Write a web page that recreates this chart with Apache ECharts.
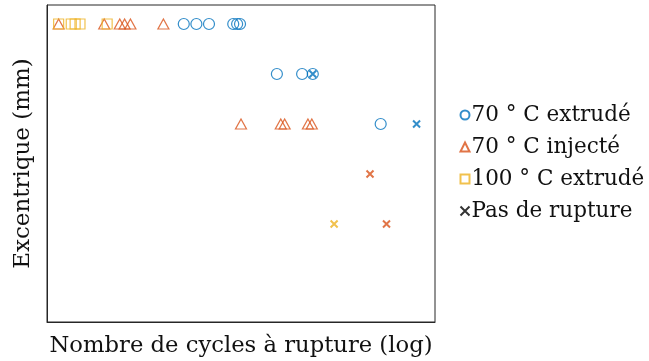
<!DOCTYPE html>
<html><head><meta charset="utf-8">
<script src="https://cdn.jsdelivr.net/npm/echarts@6/dist/echarts.min.js"></script>
<style>html,body{margin:0;padding:0;background:#fff}#c{width:649px;height:361px}</style>
</head><body><div id="c"></div>
<script>
// x = log10(cycles à rupture), y = excentrique level
const ext70X = [4.41, 4.54, 4.67, 4.92, 4.96, 4.99, 5.37, 5.63, 5.74, 6.44];
const ext70Y = [6, 6, 6, 6, 6, 6, 5, 5, 5, 4];
const inj70X = [3.12, 3.59, 3.75, 3.80, 3.86, 4.20, 5.00, 5.41, 5.45, 5.69, 5.73];
const inj70Y = [6, 6, 6, 6, 6, 6, 4, 4, 4, 4, 4];
const ext100X = [3.12, 3.25, 3.29, 3.34, 3.62];
const ext100Y = [6, 6, 6, 6, 6];
const runoutX = [5.74, 6.81, 6.33, 5.96, 6.50];
const runoutY = [5, 4, 3, 2, 2];
const runoutGroup = [0, 0, 1, 2, 1];
const legendNames = ['70 ° C extrudé', '70 ° C injecté', '100 ° C extrudé', 'Pas de rupture'];

const colors = ['#0072BD', '#D95319', '#EDB120'];
const font = 'DejaVu Serif';
const zip = (xs, ys) => xs.map((x, i) => [x, ys[i]]);
const cross = 'path://M0,0L10,10M10,0L0,10';

const chart = echarts.init(document.getElementById('c'));
chart.setOption({
  animation: false,
  grid: {left: 47, right: 214, top: 5, bottom: 39, outerBoundsMode: 'none', containLabel: false,
    show: true, borderColor: '#262626', borderWidth: 1},
  xAxis: {type: 'value', min: 3, max: 7, axisLabel: {show: false}, axisTick: {show: false},
    splitLine: {show: false}, axisLine: {show: true, lineStyle: {color: '#262626'}},
    name: 'Nombre de cycles à rupture (log)', nameLocation: 'middle', nameGap: 13,
    nameTextStyle: {fontFamily: font, fontSize: 22.7, color: '#111'}},
  yAxis: {type: 'value', min: 0.04, max: 6.38, axisLabel: {show: false}, axisTick: {show: false},
    splitLine: {show: false}, axisLine: {show: true, lineStyle: {color: '#262626'}},
    name: 'Excentrique (mm)', nameLocation: 'middle', nameGap: 12,
    nameTextStyle: {fontFamily: font, fontSize: 23, color: '#111'}},
  legend: {orient: 'vertical', left: 453, top: 99, itemWidth: 9, itemHeight: 9, itemGap: 10,
    textStyle: {fontFamily: font, fontSize: 21.5, color: '#111', padding: [0, 0, 0, -3]},
    data: [
      {name: legendNames[0]}, {name: legendNames[1]}, {name: legendNames[2]},
      {name: legendNames[3], itemStyle: {color: 'none', borderColor: '#000'}}
    ]},
  series: [
    {name: legendNames[0], type: 'scatter', symbol: 'circle', symbolSize: 11,
      itemStyle: {color: 'none', borderColor: colors[0], borderWidth: 1.2}, data: zip(ext70X, ext70Y)},
    {name: legendNames[1], type: 'scatter', symbol: 'triangle', symbolSize: [11, 10],
      itemStyle: {color: 'none', borderColor: colors[1], borderWidth: 1.2}, data: zip(inj70X, inj70Y)},
    {name: legendNames[2], type: 'scatter', symbol: 'rect', symbolSize: 10,
      itemStyle: {color: 'none', borderColor: colors[2], borderWidth: 1.2}, data: zip(ext100X, ext100Y)},
    {name: legendNames[3], type: 'scatter', symbol: cross, symbolSize: 7,
      itemStyle: {color: 'none', borderColor: '#000', borderWidth: 2},
      data: runoutX.map((x, i) => ({value: [x, runoutY[i]],
        itemStyle: {color: 'none', borderColor: colors[runoutGroup[i]], borderWidth: 2}}))}
  ]
});
</script></body></html>
